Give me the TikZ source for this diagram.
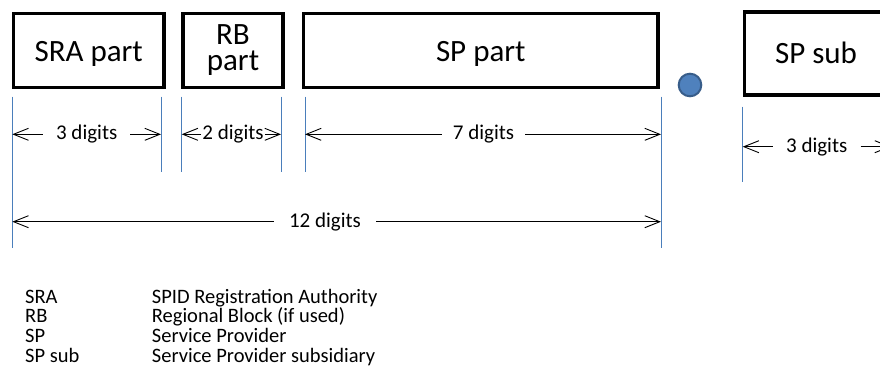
\documentclass[tikz,border=0pt]{standalone}
\usepackage{fontspec}
\setmainfont{Carlito}
\usetikzlibrary{arrows.meta}
\definecolor{tickblue}{RGB}{74,126,187}
\definecolor{dotfill}{RGB}{79,129,189}
\definecolor{dotline}{RGB}{56,93,138}

\begin{document}
\begin{tikzpicture}[x=1pt, y=-1pt,
    part/.style={draw, line width=3.5pt, minimum height=74pt, inner sep=0pt, align=center, font=\fontsize{31}{26}\selectfont},
    onerow/.style={text height=22pt, text depth=0pt},
    tick/.style={draw=tickblue, line width=1pt},
    dim/.style={inner xsep=13pt, inner ysep=0pt, font=\fontsize{21}{25}\selectfont},
    arr/.style={-{Straight Barb[length=15pt,width=12pt]}, line width=0.9pt},
    legend/.style={anchor=base west, inner sep=0pt, font=\fontsize{20.5}{24}\selectfont}]
    \useasboundingbox (0,0) rectangle (880,381);
    \clip (0,0) rectangle (880,381);
    % the parts of the number
    \node[part, onerow, minimum width=150.5pt] (sra) at (88.7,50.5) {SRA part};
    \node[part, minimum width=100.4pt] (rb) at (233,50.5) {RB\\part};
    \node[part, onerow, minimum width=354.7pt] (sp) at (480.8,50.5) {SP part};
    \node[part, onerow, text height=20pt, minimum width=143pt, minimum height=83pt] (sub) at (816,53.4) {SP sub};
    \node[circle, fill=dotfill, draw=dotline, line width=2pt, minimum size=22.6pt, inner sep=0pt] (dot) at (690,85) {};
    % extension lines
    \foreach \x in {12.3,661} \draw[tick] (\x,96.7) -- (\x,248.3);
    \foreach \x in {161,181.7,281,305} \draw[tick] (\x,96.7) -- (\x,171.7);
    \draw[tick] (742.7,106.7) -- (742.7,181.7);
    % digit counts
    \coordinate (sral) at (12.3,134.3);
    \coordinate (srar) at (161,134.3);
    \coordinate (rbl) at (181.7,134.3);
    \coordinate (rbr) at (281,134.3);
    \coordinate (spl) at (305,134.3);
    \coordinate (spr) at (661,134.3);
    \coordinate (alll) at (12.3,221.7);
    \coordinate (allr) at (661,221.7);
    \coordinate (subl) at (742.7,146.7);
    \coordinate (subr) at (891,146.7);
    \node[dim] (sradig) at (86.7,134.3) {3 digits};
    \node[dim, inner xsep=1pt] (rbdig) at (233,134.3) {2 digits};
    \node[dim, inner xsep=11pt] (spdig) at (483.5,134.3) {7 digits};
    \node[dim, inner xsep=15pt] (alldig) at (325,221.7) {12 digits};
    \node[dim] (subdig) at (816.7,146.7) {3 digits};
    \draw[arr] (sradig) -- (sral);
    \draw[arr] (sradig) -- (srar);
    \draw[arr] (rbdig) -- (rbl);
    \draw[arr] (rbdig) -- (rbr);
    \draw[arr] (spdig) -- (spl);
    \draw[arr] (spdig) -- (spr);
    \draw[arr] (alldig) -- (alll);
    \draw[arr] (alldig) -- (allr);
    \draw[arr] (subdig) -- (subl);
    \draw[arr] (subdig) -- (subr);
    % legend
    \foreach \abbr/\desc [count=\i] in {SRA/SPID Registration Authority, RB/Regional Block (if used), SP/Service Provider, SP sub/Service Provider subsidiary} {
        \node[legend] (abbr\i) at (25,283.6+19.67*\i) {\abbr};
        \node[legend] (desc\i) at (151.7,283.6+19.67*\i) {\desc};
    }
\end{tikzpicture}
\end{document}
